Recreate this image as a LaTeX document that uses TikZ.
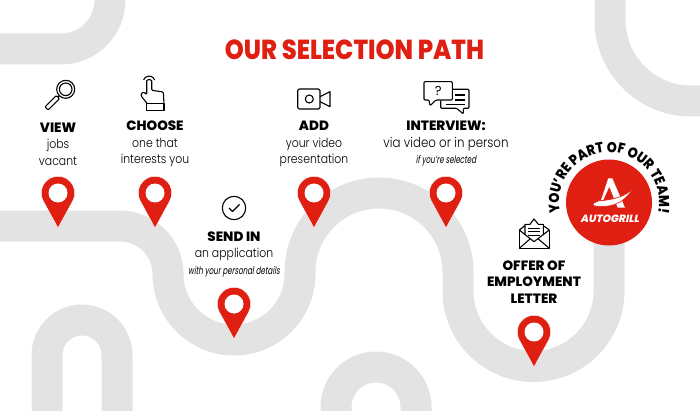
\documentclass[tikz,border=0pt]{standalone}
\usepackage{fontspec}
\setmainfont{Poppins}
\newfontfamily\bodyfont[FakeStretch=0.87]{Poppins Light}
\newfontfamily\headfont{Poppins ExtraBold}
\newfontfamily\titlefont[FakeStretch=0.88]{Poppins ExtraBold}
\newfontfamily\teamfont[FakeStretch=0.88]{Poppins ExtraBold}
\newfontfamily\logofont[FakeSlant=0.2]{Poppins ExtraBold}
\newfontfamily\notefont[FakeStretch=0.68,FakeSlant=0.15]{Poppins}
\usetikzlibrary{decorations.text}
\definecolor{pathred}{HTML}{DE1F12}
\definecolor{pathgrey}{HTML}{E3E3E3}
\newcommand{\headtext}[1]{{\headfont\fontsize{13.5}{16.5}\selectfont #1}}
\newcommand{\notetext}[1]{{\notefont\fontsize{10.5}{16.5}\selectfont #1}}

\begin{document}
\begin{tikzpicture}
  [x=1pt,y=1pt,
   road/.style = {draw=pathgrey,line width=31pt},
   icon/.style = {draw=black,line width=1.1pt,line join=round},
   label/.style = {align=center,inner sep=0pt,font=\bodyfont\fontsize{12.5}{16.5}\selectfont},
   pin/.pic = {
     \fill[pathred,draw=white,line width=.4pt] (0,-35) -- (-151.5:16.7) arc[start angle=-151.5,end angle=-388.5,radius=16.7] -- cycle;
     \fill[white] (0,0) circle (9.5);
   }]

\useasboundingbox (0,0) rectangle (700,410);

% Background roads
\begin{scope}
\clip (0,0) rectangle (700,410);
\draw[road] (-5,361) -- (61,361) arc[start angle=-90,end angle=0,radius=49] -- (110,415);
\draw[road] (610,415) -- (610,390) arc[start angle=180,end angle=270,radius=81] -- (705,309);
\draw[road] (47,-5) -- (47,55) arc[start angle=180,end angle=0,radius=35] -- (117,-5);
\draw[road] (336,-5) -- (336,3) arc[start angle=180,end angle=0,radius=40] -- (416,-5);

% Main road
\draw[road] (-5,184) -- (120,184) arc[start angle=90,end angle=0,radius=48]
  arc[start angle=180,end angle=360,radius=66] -- (300,138)
  arc[start angle=180,end angle=0,radius=79] -- (458,119)
  arc[start angle=180,end angle=360,radius=75.5] -- (609,205);
\end{scope}

% Title
\node[inner sep=0pt,text=pathred,font=\titlefont\fontsize{27.5}{27.5}\selectfont] (title) at (354.5,360.5) {OUR SELECTION PATH};

% Steps
\node[label] (view) at (58,266) {\headtext{VIEW}\\jobs\\vacant};
\node[label] (choose) at (155,266) {\headtext{CHOOSE}\\one that\\interests you};
\node[label] (add) at (314,266) {\headtext{ADD}\\your video\\presentation};
\node[label] (interview) at (446,266) {\headtext{INTERVIEW:}\\{\fontsize{13.6}{16.5}\selectfont via video or in person}\\\notetext{if you’re selected}};
\node[label] (send) at (234,155.5) {\headtext{SEND IN}\\an application\\\notetext{with your personal details}};
\node[label] (offer) at (534,128) {\headtext{OFFER OF}\\\headtext{EMPLOYMENT}\\\headtext{LETTER}};

% Pins
\pic at (58,217) {pin};
\pic at (155,217) {pin};
\pic at (234,106) {pin};
\pic at (314,217) {pin};
\pic at (446,217) {pin};
\pic at (534,78) {pin};

% Magnifier
\begin{scope}[shift={(65.7,320.7)},rotate=225]
\draw[icon] (0,0) circle (9);
\draw[icon] (0,0) circle (6.3);
\draw[icon,rounded corners=1pt] (11,-2.2) rectangle (27,2.2);
\draw[icon] (9,0) -- (11,0);
\end{scope}

% Hand
\draw[icon] (146.7,299.7) rectangle (164,306.3);
\draw[icon,rounded corners=1pt] (147.3,306.3) -- (141.2,314) -- (141,316.3) -- (144,318) -- (146.7,315.3) -- (146.7,328)
  arc[start angle=180,end angle=0,radius=2.5] -- (151.7,319.7) -- (163.3,318) -- (164,306.3);
\draw[icon] (143.6,330) arc[start angle=160,end angle=20,radius=5.9];

% Camera
\draw[icon,rounded corners=1.5pt] (297.7,301) rectangle (320,321);
\draw[icon] (309.3,311) circle (4);
\draw[icon] (320,313.3) -- (330,318.3) -- (330,303.3) -- (320,308.3);

% Tick
\draw[icon] (234,202) circle (11.7);
\draw[icon] (229,202) -- (232.5,198.5) -- (239.5,205.5);

% Chat
\draw[icon,rounded corners=1pt] (436,310) -- (430,304.3) -- (429,310) -- (424,310) -- (424,328.3) -- (452.3,328.3) -- (452.3,310) -- cycle;
\draw[icon,rounded corners=1pt] (452.3,320.7) -- (469,320.7) -- (469,301.7) -- (463.3,301.7) -- (463.3,296) -- (456.7,301.7) -- (440.7,301.7) -- (440.7,309.3);
\draw[icon] (455,315) -- (465,315) (455,310) -- (465,310) (446,305.5) -- (465,305.5);
\node[inner sep=0pt,font=\fontsize{13}{13}\selectfont] (ask) at (438.3,319) {?};

% Envelope
\draw[icon] (519.3,180) -- (519.3,161.7) -- (549.3,161.7) -- (549.3,180);
\draw[icon] (519.3,180) -- (525,184.3) (549.3,180) -- (543.3,184.3);
\draw[icon] (525,175) -- (525,185.7) -- (530,185.7) -- (534,191) -- (538.3,185.7) -- (543.3,185.7) -- (543.3,175);
\draw[icon] (519.3,180) -- (534,168.3) -- (549.3,180);
\draw[icon] (519.3,161.7) -- (530,171) (549.3,161.7) -- (538.3,171);
\draw[icon,line width=.9pt] (528.3,181.7) -- (540,181.7) (528.3,178.3) -- (540,178.3) (528.3,175) -- (540,175);

% Badge
\fill[pathred] (609,207.5) circle (43);
\path[decorate,decoration={text along path,text align=center,
  text={|\teamfont\fontsize{14.5}{14.5}\selectfont|YOU’RE PART OF OUR TEAM!}}]
  (559.8,199) arc[start angle=190,end angle=-10,radius=50];

% Logo
\fill[white] (608.3,231.7) -- (612.3,231.7) -- (625,202.3) -- (617.7,202.3) -- (609.3,223.3) -- (603.3,210) -- (601,210) -- cycle;
\filldraw[white,draw=pathred,line width=.6pt] (633.3,221.7) .. controls (625,213) and (612,210) .. (598.3,209) -- (593.3,206.7) -- (593.3,204.3)
  .. controls (608,202) and (622,204) .. (633.3,221.7) -- cycle;
\node[inner sep=0pt,text=white,font=\logofont\fontsize{10.5}{10.5}\selectfont] (logo) at (609.7,191.7) {AUTOGRILL};

\end{tikzpicture}
\end{document}
